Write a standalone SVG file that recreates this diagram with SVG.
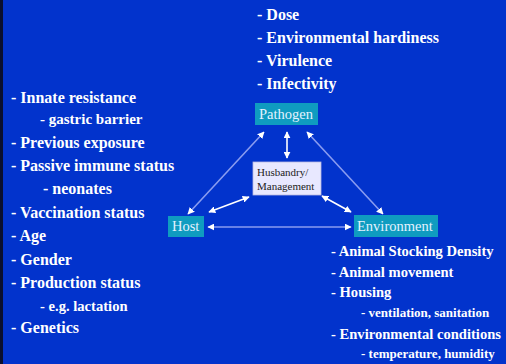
<svg xmlns="http://www.w3.org/2000/svg" width="506" height="364" viewBox="0 0 506 364">
<defs>
<style>
.t{font-family:"Liberation Serif","Times New Roman",serif;font-weight:bold;fill:#ffffff;font-size:16px}
.s{font-size:15px}
.s2{font-size:14.6px}
.r{font-size:14.6px}
.rs{font-size:13px}
.box{fill:#0f9cc0}
.lbl{font-family:"Liberation Serif","Times New Roman",serif;fill:#e4f2ff;font-size:14.5px}
.hl{font-family:"Liberation Serif","Times New Roman",serif;fill:#222222;font-size:11px}
.tri{stroke:#8a9cf0;stroke-width:1.6;fill:none}
.wl{stroke:#ffffff;stroke-width:1.6;fill:none}
</style>
<marker id="ah" viewBox="0 0 10 10" refX="9" refY="5" markerWidth="7" markerHeight="7" markerUnits="userSpaceOnUse" orient="auto-start-reverse">
<path d="M0,0 L10,5 L0,10 z" fill="#ffffff"/>
</marker>
</defs>
<rect x="0" y="0" width="506" height="364" fill="#0233cc"/>
<rect x="0" y="0" width="3" height="364" fill="#0a0f2e"/>

<g id="connectors">
<line class="tri" x1="264" y1="132" x2="188" y2="214" marker-start="url(#ah)" marker-end="url(#ah)"/>
<line class="tri" x1="307" y1="132" x2="383" y2="214" marker-start="url(#ah)" marker-end="url(#ah)"/>
<line class="tri" x1="208" y1="227" x2="351" y2="227" marker-start="url(#ah)" marker-end="url(#ah)"/>
<line class="wl" x1="287" y1="132" x2="287" y2="158" marker-start="url(#ah)" marker-end="url(#ah)"/>
<line class="wl" x1="249" y1="197" x2="209" y2="212" marker-start="url(#ah)" marker-end="url(#ah)"/>
<line class="wl" x1="322" y1="196" x2="351" y2="212" marker-start="url(#ah)" marker-end="url(#ah)"/>
</g>

<g id="pathogen">
<rect class="box" x="255" y="103" width="63" height="22"/>
<text class="lbl" x="259" y="119">Pathogen</text>
</g>
<g id="husbandry">
<rect x="253" y="162" width="68" height="33" fill="#e8e8ff" stroke="#b8b8e0" stroke-width="0.8"/>
<text class="hl" x="257" y="176">Husbandry/</text>
<text class="hl" x="257" y="190">Management</text>
</g>
<g id="host">
<rect class="box" x="168" y="216" width="36" height="21"/>
<text class="lbl" x="172" y="231">Host</text>
</g>
<g id="environment">
<rect class="box" x="354" y="215" width="84" height="22"/>
<text class="lbl" x="357" y="231">Environment</text>
</g>

<g id="pathogen-factors">
<text class="t" x="257" y="20">- Dose</text>
<text class="t" x="257" y="43">- Environmental hardiness</text>
<text class="t" x="257" y="66">- Virulence</text>
<text class="t" x="257" y="89">- Infectivity</text>
</g>

<g id="host-factors">
<text class="t" x="11" y="103">- Innate resistance</text>
<text class="t s" x="40" y="124">- gastric barrier</text>
<text class="t" x="11" y="148">- Previous exposure</text>
<text class="t" x="11" y="171">- Passive immune status</text>
<text class="t" x="43" y="194">- neonates</text>
<text class="t" x="11" y="218">- Vaccination status</text>
<text class="t" x="11" y="241">- Age</text>
<text class="t" x="11" y="265">- Gender</text>
<text class="t" x="11" y="288">- Production status</text>
<text class="t s2" x="40" y="311">- e.g. lactation</text>
<text class="t" x="11" y="333">- Genetics</text>
</g>

<g id="environment-factors">
<text class="t r" x="331" y="256">- Animal Stocking Density</text>
<text class="t r" x="331" y="277">- Animal movement</text>
<text class="t r" x="331" y="297">- Housing</text>
<text class="t rs" x="361" y="317">- ventilation, sanitation</text>
<text class="t r" x="331" y="339">- Environmental conditions</text>
<text class="t rs" x="361" y="358">- temperature, humidity</text>
</g>
</svg>
